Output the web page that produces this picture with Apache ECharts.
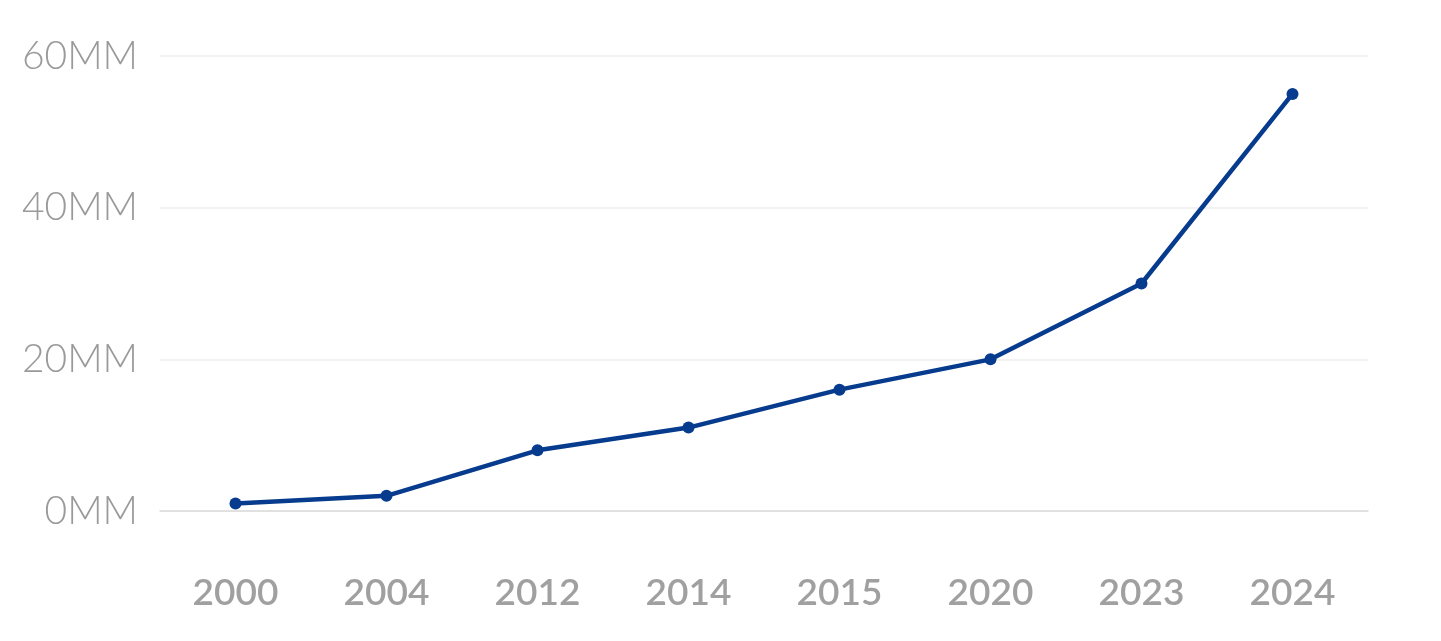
<!DOCTYPE html>
<html><head><meta charset="utf-8">
<script src="https://cdn.jsdelivr.net/npm/echarts@6/dist/echarts.min.js"></script>
<style>html,body{margin:0;padding:0;background:#fff}#c{width:1441px;height:641px}</style>
</head><body><div id="c"></div>
<script>
const categories = ['2000','2004','2012','2014','2015','2020','2023','2024'];
const values = [1, 2, 8, 11, 16, 20, 30, 55];
const yTicks = [0, 20, 40, 60];
const chart = echarts.init(document.getElementById('c'));
chart.setOption({
  animation: false,
  grid: {left: 160, right: 73, top: 56, bottom: 130},
  xAxis: {
    type: 'category', data: categories, boundaryGap: true,
    axisLine: {show: true, lineStyle: {color: '#dcdcdc', width: 1.5}},
    axisTick: {show: false},
    axisLabel: {color: '#a0a0a0', fontFamily: 'Lato', fontWeight: 600, fontSize: 37, margin: 64}
  },
  yAxis: {
    type: 'value', min: 0, max: 60, interval: 20,
    axisLine: {show: false}, axisTick: {show: false},
    splitLine: {lineStyle: {color: '#eeeeee', width: 1.5}},
    axisLabel: {color: '#9a9a9a', fontFamily: 'Lato', fontWeight: 300, fontSize: 39, margin: 22,
      formatter: v => v + 'MM'}
  },
  series: [{
    type: 'line', data: values, symbol: 'circle', symbolSize: 12,
    lineStyle: {color: '#063b8e', width: 4.5}, itemStyle: {color: '#063b8e'}
  }]
});
</script></body></html>
